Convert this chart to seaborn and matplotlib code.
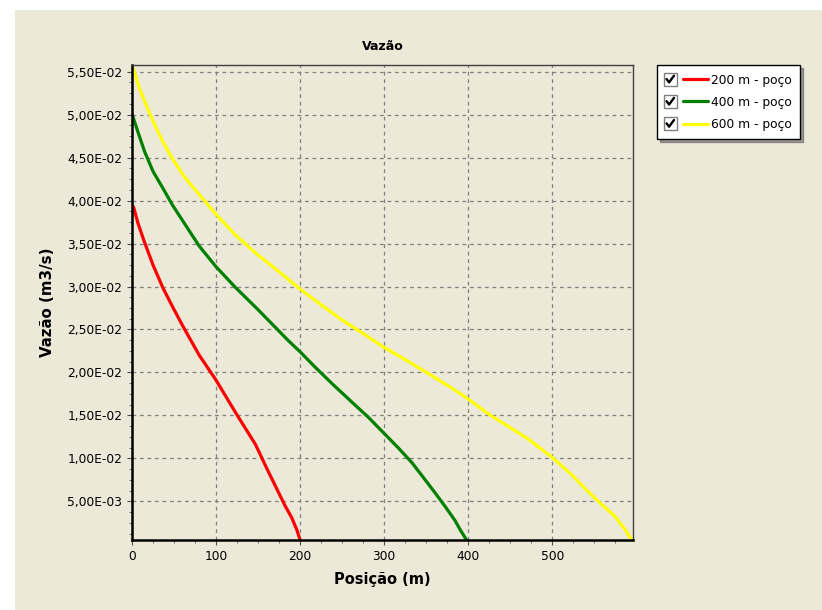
import numpy as np
import pandas as pd
import matplotlib
matplotlib.use("Agg")
import matplotlib.pyplot as plt
import seaborn as sns
from matplotlib.ticker import MultipleLocator, FuncFormatter
from matplotlib.patches import Rectangle
from matplotlib.lines import Line2D
from matplotlib.legend_handler import HandlerBase

# ---------------- data ----------------
pos_200 = [0, 2, 7, 14, 25, 37, 49, 61, 80, 100, 124, 147, 160, 172, 182,
           190, 196, 200]
q_200 = [0.0395, 0.0392, 0.0374, 0.0354, 0.0325, 0.0298, 0.0275, 0.0253,
         0.0220, 0.0191, 0.0152, 0.0116, 0.0089, 0.0065, 0.0045, 0.0031,
         0.0017, 0.0005]

pos_400 = [0, 1, 7, 15, 25, 37, 48, 62, 80, 100, 123, 149, 186, 200, 218,
           238, 261, 281, 300, 317, 333, 348, 362, 374, 384, 391, 398]
q_400 = [0.0500, 0.0498, 0.0480, 0.0457, 0.0434, 0.0414, 0.0395, 0.0374,
         0.0347, 0.0323, 0.0299, 0.0274, 0.0237, 0.0224, 0.0206, 0.0187,
         0.0166, 0.0148, 0.0129, 0.0112, 0.0095, 0.0076, 0.0058, 0.0042,
         0.0028, 0.0016, 0.0005]

pos_600 = [0, 2, 9, 17, 27, 37, 48, 62, 80, 99, 123, 147, 174, 200, 226,
           250, 277, 300, 325, 352, 380, 400, 425, 448, 472, 500, 523, 542,
           558, 574, 586, 594]
q_600 = [0.0556, 0.0552, 0.0530, 0.0511, 0.0488, 0.0468, 0.0449, 0.0428,
         0.0407, 0.0385, 0.0360, 0.0339, 0.0318, 0.0297, 0.0278, 0.0261,
         0.0244, 0.0229, 0.0215, 0.0199, 0.0182, 0.0169, 0.0151, 0.0137,
         0.0122, 0.0101, 0.0081, 0.0062, 0.0047, 0.0033, 0.0018, 0.0006]

series_names = ["200 m - poço", "400 m - poço", "600 m - poço"]
series_colors = ["#FF0000", "#008000", "#FFFF00"]

title = "Vazão"
xlabel = "Posição (m)"
ylabel = "Vazão (m3/s)"

df = pd.concat([
    pd.DataFrame({"pos": pos_200, "q": q_200, "serie": series_names[0]}),
    pd.DataFrame({"pos": pos_400, "q": q_400, "serie": series_names[1]}),
    pd.DataFrame({"pos": pos_600, "q": q_600, "serie": series_names[2]}),
], ignore_index=True)

# ---------------- style ----------------
sns.set_style("ticks")
plt.rcParams["font.family"] = ["DejaVu Sans"]
plt.rcParams["text.color"] = "black"
plt.rcParams["axes.labelcolor"] = "black"
BG = "#ECE9D8"

fig = plt.figure(figsize=(8.22, 6.10), dpi=100)
fig.patch.set_facecolor("white")
fig.patches.append(Rectangle((15 / 822, 0), 1 - 15 / 822, 1 - 10 / 610,
                             transform=fig.transFigure, facecolor=BG,
                             edgecolor="none", zorder=-10))

ax = fig.add_axes([132 / 822, 1 - 540 / 610, (633 - 132) / 822, (540 - 65) / 610])
ax.set_facecolor(BG)

sns.lineplot(data=df, x="pos", y="q", hue="serie", palette=series_colors,
             hue_order=series_names, sort=False, estimator=None,
             linewidth=2.3, legend=False, ax=ax)

ax.set_xlim(0, 596)
ax.set_ylim(0.0005, 0.05578)

ax.xaxis.set_major_locator(MultipleLocator(100))
ax.xaxis.set_minor_locator(MultipleLocator(25))
ax.yaxis.set_major_locator(MultipleLocator(0.005))
ax.yaxis.set_minor_locator(MultipleLocator(0.00125))
ax.yaxis.set_major_formatter(FuncFormatter(lambda v, p: f"{v:.2E}".replace(".", ",")))
ax.xaxis.set_major_formatter(FuncFormatter(lambda v, p: f"{v:.0f}"))

ax.tick_params(axis="both", which="major", direction="out", length=3.5,
               width=0.8, color="#505050", labelsize=8.8, pad=3.5, labelcolor="black")
ax.tick_params(axis="both", which="minor", direction="out", length=2,
               width=0.7, color="#707070")

ax.grid(True, which="major", color="#808080", linestyle=(0, (3, 3)), linewidth=0.9)
ax.set_axisbelow(True)

for s in ["left", "bottom"]:
    ax.spines[s].set_linewidth(1.8)
    ax.spines[s].set_color("black")
for s in ["top", "right"]:
    ax.spines[s].set_visible(True)
    ax.spines[s].set_linewidth(1.0)
    ax.spines[s].set_color("#404040")

ax.set_title(title, fontsize=9, fontweight="bold", pad=11)
ax.set_xlabel(xlabel, fontsize=10.5, fontweight="bold", labelpad=6.5)
ax.set_ylabel(ylabel, fontsize=10.8, fontweight="bold", labelpad=9)


# ---------------- legend with check boxes ----------------
class CheckLineHandler(HandlerBase):
    def create_artists(self, legend, orig_handle, xdescent, ydescent,
                       width, height, fontsize, trans):
        x0 = -xdescent
        y0 = -ydescent
        s = fontsize * 1.05
        by = y0 + (height - s) / 2
        bx = x0 - 0.15 * fontsize
        box = Rectangle((bx, by), s, s, facecolor="white",
                        edgecolor="#808080", linewidth=1.0, transform=trans)
        check = Line2D([bx + 0.22 * s, bx + 0.42 * s, bx + 0.80 * s],
                       [by + 0.52 * s, by + 0.26 * s, by + 0.78 * s],
                       color="black", linewidth=1.7, transform=trans)
        ly = y0 + height / 2
        line = Line2D([bx + s + 0.5 * fontsize, x0 + width], [ly, ly],
                      color=orig_handle.get_color(), linewidth=2.3,
                      transform=trans)
        return [box, check, line]


handles = [Line2D([], [], color=c, linewidth=2.3) for c in series_colors]
leg = fig.legend(handles, series_names, loc="upper left",
                 bbox_to_anchor=(657 / 822, 1 - 65 / 610),
                 handler_map={Line2D: CheckLineHandler()},
                 fontsize=8.8, handlelength=3.5, handletextpad=0.2,
                 labelspacing=0.75, borderpad=0.7, frameon=True,
                 fancybox=False, shadow=True, borderaxespad=0)
frame = leg.get_frame()
frame.set_facecolor("white")
frame.set_edgecolor("black")
frame.set_linewidth(1.0)
frame.set_alpha(1.0)

fig.savefig("out.png", dpi=100, facecolor=fig.get_facecolor())
